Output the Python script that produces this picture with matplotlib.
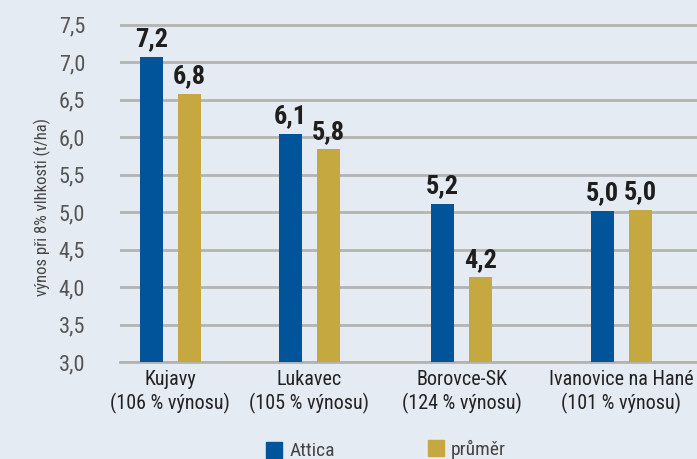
import matplotlib
matplotlib.use("Agg")
import matplotlib.pyplot as plt
from matplotlib.patches import Rectangle
import numpy as np

categories = ["Kujavy\n(106 % výnosu)", "Lukavec\n(105 % výnosu)",
              "Borovce-SK\n(124 % výnosu)", "Ivanovice na Hané\n(101 % výnosu)"]
attica = [7.07, 6.05, 5.11, 5.02]
prumer = [6.58, 5.84, 4.13, 5.03]
attica_labels = ["7,2", "6,1", "5,2", "5,0"]
prumer_labels = ["6,8", "5,8", "4,2", "5,0"]
yticks = [3.0, 3.5, 4.0, 4.5, 5.0, 5.5, 6.0, 6.5, 7.0, 7.5]
series_names = ["Attica", "průměr"]

FONT = ["Roboto Condensed", "Archivo Narrow", "DejaVu Sans"]
plt.rcParams['font.family'] = FONT
BG = "#e5ebf2"
BLUE = "#01539a"
GOLD = "#c6a840"

fig = plt.figure(figsize=(6.97, 4.59), dpi=100, facecolor=BG)
ax = fig.add_axes([0.172, 0.2113, 0.828, 0.7507], facecolor=BG)

x = np.array([0.0, 0.92, 1.93, 2.99])
w = 0.152
off = 0.125
ax.bar(x - off, attica, w, color=BLUE, zorder=3)
ax.bar(x + off, prumer, w, color=GOLD, zorder=3)
for xi, v, t in zip(x - off, attica, attica_labels):
    ax.annotate(t, (xi, v), xytext=(0, 4), textcoords="offset points",
                ha="center", va="bottom", fontsize=19, fontweight="bold", color="#1e1e1e")
for xi, v, t in zip(x + off, prumer, prumer_labels):
    ax.annotate(t, (xi, v), xytext=(0, 4), textcoords="offset points",
                ha="center", va="bottom", fontsize=19, fontweight="bold", color="#1e1e1e")

ax.set_ylim(3.0, 7.6)
ax.set_xlim(-0.335, 3.491)
ax.set_yticks(yticks)
ax.set_yticklabels([f"{v:.1f}".replace(".", ",") for v in yticks], fontsize=16, color="#555555")
ax.set_xticks(x)
ax.set_xticklabels(categories, fontsize=14.5, color="#222222", linespacing=1.2)
ax.tick_params(axis="both", length=0)
ax.tick_params(axis="y", pad=25)
ax.tick_params(axis="x", pad=6)
ax.grid(axis="y", color="#b3b3b3", linewidth=2, zorder=1)
for s in ["top", "right", "left"]:
    ax.spines[s].set_visible(False)
ax.spines["bottom"].set_color("#b3b3b3")
ax.spines["bottom"].set_linewidth(2)
ax.set_ylabel("výnos při 8% vlhkosti (t/ha)", fontsize=12, color="#444444")
ax.yaxis.set_label_coords(-0.119, 0.45)

# legend
fig.patches.append(Rectangle((266 / 697, 1 - 458 / 459), 16 / 697, 16 / 459,
                             transform=fig.transFigure, color=BLUE))
fig.text(290 / 697, 1 - 451 / 459, series_names[0], fontsize=14, color="#444444", va="center")
fig.patches.append(Rectangle((428 / 697, 1 - 456 / 459), 16 / 697, 16 / 459,
                             transform=fig.transFigure, color=GOLD))
fig.text(451 / 697, 1 - 449 / 459, series_names[1], fontsize=14, color="#444444", va="center")

fig.savefig("out.png", dpi=100, facecolor=BG)
